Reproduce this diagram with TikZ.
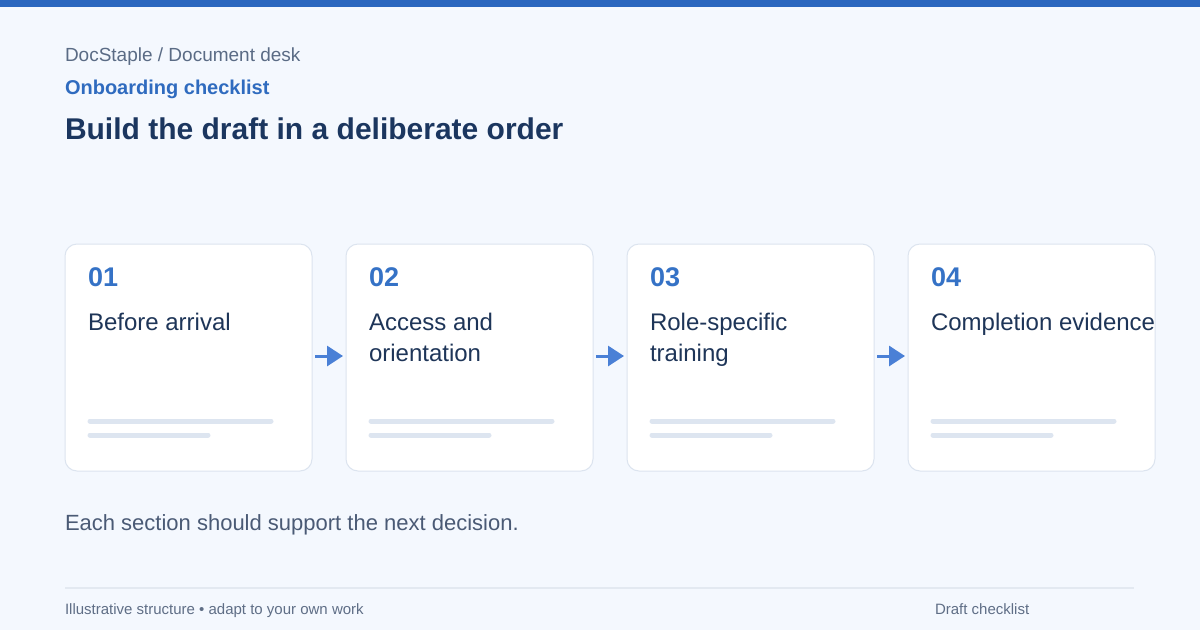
\documentclass[tikz,border=0pt]{standalone}
\usepackage{fontspec}
\setmainfont{Liberation Sans}
\usetikzlibrary{arrows.meta}
\definecolor{bg}{HTML}{F4F8FE}
\definecolor{topbar}{HTML}{2B67BF}
\definecolor{crumb}{HTML}{5A6B85}
\definecolor{kicker}{HTML}{2F6BBF}
\definecolor{titlec}{HTML}{1B365F}
\definecolor{numc}{HTML}{3572C6}
\definecolor{cardtxt}{HTML}{1E3558}
\definecolor{cardedge}{HTML}{DCE4EF}
\definecolor{skel}{HTML}{DDE5F0}
\definecolor{arrowc}{HTML}{4A80D6}
\definecolor{bodyc}{HTML}{4A5A75}
\definecolor{rule}{HTML}{E3E9F1}
\definecolor{footc}{HTML}{5F6E86}
\tikzset{
  txt/.style={anchor=base west, inner sep=0pt, outer sep=0pt},
  card/.style={draw=cardedge, line width=1pt, fill=white, rounded corners=12pt,
    minimum width=247pt, minimum height=227pt, inner sep=0pt, outer sep=0pt},
  skelline/.style={draw=skel, line width=5pt, line cap=round},
  flow/.style={draw=arrowc, line width=3pt, -{Triangle[length=16pt,width=20pt]},
    shorten <=2pt, shorten >=3pt},
  numtxt/.style={txt, font=\fontsize{27}{32}\selectfont\bfseries, text=numc},
  cardlabel/.style={txt, font=\fontsize{24}{31}\selectfont, text=cardtxt, align=left}
}
\begin{document}
\begin{tikzpicture}[x=1pt,y=-1pt]
\fill[bg] (0,0) rectangle (1200,630);
\useasboundingbox (0,0) rectangle (1200,630);
\fill[topbar] (0,0) rectangle (1200,7);

\node[txt, font=\fontsize{19}{22}\selectfont, text=crumb] (crumb) at (65,61) {DocStaple / Document desk};
\node[txt, font=\fontsize{20}{24}\selectfont\bfseries, text=kicker] (kick) at (65,94) {Onboarding checklist};
\node[txt, font=\fontsize{30}{36}\selectfont\bfseries, text=titlec] (title) at (65,139) {Build the draft in a deliberate order};

\foreach \i/\x/\n/\a/\b in {1/65/01/Before arrival/, 2/346/02/Access and/orientation, 3/627/03/Role-specific/training, 4/908/04/Completion evidence/}{
  \node[card] (c\i) at (\x+123.5,357.5) {};
  \node[numtxt] (n\i) at (\x+23,286) {\n};
  \node[cardlabel] (t\i) at (\x+23,330) {\a};
  \node[cardlabel] (u\i) at (\x+23,361) {\b};
  \draw[skelline] (\x+25,421) -- (\x+206,421);
  \draw[skelline] (\x+25,435) -- (\x+143,435);
}
\coordinate (a1s) at (313,356); \coordinate (a1e) at (346,356);
\coordinate (a2s) at (594,356); \coordinate (a2e) at (627,356);
\coordinate (a3s) at (875,356); \coordinate (a3e) at (908,356);
\draw[flow] (a1s) -- (a1e);
\draw[flow] (a2s) -- (a2e);
\draw[flow] (a3s) -- (a3e);

\node[txt, font=\fontsize{22}{26}\selectfont, text=bodyc] (note) at (65,530) {Each section should support the next decision.};

\draw[rule, line width=2pt] (65,588) -- (1134,588);
\node[txt, font=\fontsize{15}{18}\selectfont, text=footc] (fl) at (65,614) {Illustrative structure • adapt to your own work};
\node[txt, font=\fontsize{15}{18}\selectfont, text=footc] (fr) at (935,614) {Draft checklist};
\end{tikzpicture}
\end{document}
